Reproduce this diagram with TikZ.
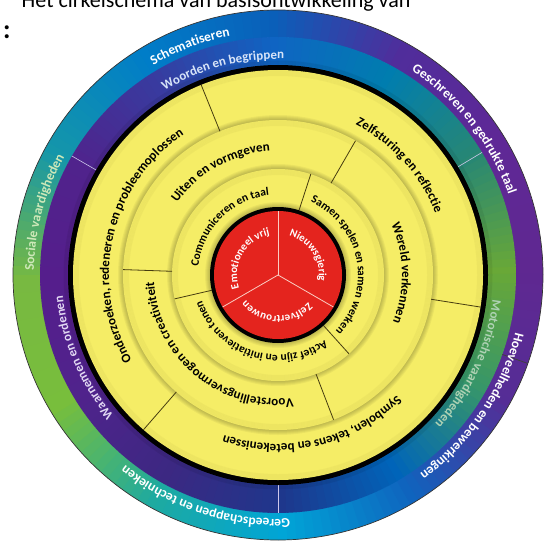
\documentclass[tikz,border=0pt]{standalone}
\usepackage{fontspec}
\setmainfont{Carlito}
\usetikzlibrary{decorations.text}

\definecolor{wheelyellow}{RGB}{245,237,102}
\definecolor{wheelred}{RGB}{228,36,30}
\definecolor{sepolive}{RGB}{70,60,15}
\definecolor{seplight}{RGB}{205,200,235}
\definecolor{redline}{RGB}{250,205,195}
\definecolor{socialgreen}{RGB}{205,232,185}
\definecolor{motorgreen}{RGB}{175,210,180}
\definecolor{bandblue}{RGB}{215,228,248}
\definecolor{bandlilac}{RGB}{225,215,242}
\definecolor{oband0}{RGB}{95,40,145}
\definecolor{oband1}{RGB}{95,40,150}
\definecolor{oband2}{RGB}{80,45,155}
\definecolor{oband3}{RGB}{10,95,185}
\definecolor{oband4}{RGB}{0,125,200}
\definecolor{oband5}{RGB}{20,150,170}
\definecolor{oband6}{RGB}{120,185,65}
\definecolor{oband7}{RGB}{120,190,60}
\definecolor{oband8}{RGB}{30,170,160}
\definecolor{oband9}{RGB}{0,165,215}
\definecolor{oband10}{RGB}{15,100,190}
\definecolor{oband11}{RGB}{85,45,150}
\definecolor{iband0}{RGB}{105,168,55}
\definecolor{iband1}{RGB}{40,135,115}
\definecolor{iband2}{RGB}{0,125,175}
\definecolor{iband3}{RGB}{15,100,195}
\definecolor{iband4}{RGB}{55,60,160}
\definecolor{iband5}{RGB}{80,35,140}
\definecolor{iband6}{RGB}{85,30,140}
\definecolor{iband7}{RGB}{80,35,140}
\definecolor{iband8}{RGB}{60,40,130}
\definecolor{iband9}{RGB}{30,55,140}
\definecolor{iband10}{RGB}{0,100,185}
\definecolor{iband11}{RGB}{55,150,105}

\newcommand\fband{\fontsize{13.5}{15}\selectfont\bfseries}
\newcommand\finner{\fontsize{13}{15}\selectfont\bfseries}
\newcommand\fring{\fontsize{13}{15}\selectfont\bfseries}
\newcommand\fsmall{\fontsize{11.5}{13}\selectfont\bfseries}
\newcommand\fred{\fontsize{11}{13}\selectfont\bfseries}

\newcommand\ringlabel[5]{%
  \path[decorate,decoration={text along path,text color=#2,text align=center,text={|#1|#5}}]
    (#4+85:#3) arc[start angle=#4+85,end angle=#4-85,radius=#3];%
}

\begin{document}
\begin{tikzpicture}[x=1pt,y=1pt]
\useasboundingbox (0,0) rectangle (545,542);
\clip (0,0) rectangle (545,542);
\fill[white] (0,0) rectangle (545,542);
\node[anchor=base east,font=\fontsize{22}{26}\selectfont] (title) at (414,534) {Het cirkelschema van basisontwikkeling van};
\node[anchor=base west,font=\fontsize{27}{30}\selectfont\bfseries,inner sep=0pt] (colon) at (3,503) {:};

\begin{scope}[shift={(278,267)}]
\coordinate (C) at (0,0);
\foreach \i in {0,...,11}{
  \pgfmathtruncatemacro\j{mod(\i+1,12)}
  \foreach \t in {0,...,14}{
    \pgfmathtruncatemacro\p{\t*100/15}
    \pgfmathsetmacro\a{\i*30+\t*2}
    \fill[oband\j!\p!oband\i] (\a:237.5) arc[start angle=\a,end angle=\a+2.3,radius=237.5]
      -- (\a+2.3:265) arc[start angle=\a+2.3,end angle=\a,radius=265] -- cycle;
    \fill[iband\j!\p!iband\i] (\a:208) arc[start angle=\a,end angle=\a+2.3,radius=208]
      -- (\a+2.3:238) arc[start angle=\a+2.3,end angle=\a,radius=238] -- cycle;
  }
}
\foreach \k in {1,...,4}
  \draw[black,opacity=0.06,line width=1] (C) circle (210+\k);
\draw[black!80,line width=0.7] (C) circle (265);
\draw[black!75,line width=0.8] (-19.5:238) -- (-19.5:265);
\foreach \a in {31,150,270}
  \draw[seplight,line width=0.6] (\a:210) -- (\a:238);

\fill[black] (C) circle (210);
\fill[wheelyellow] (C) circle (205);
\foreach \R in {205,155,106}
  \foreach \k in {1,...,6}
    \draw[sepolive,opacity=0.035,line width=1] (C) circle (\R-\k+0.5);
\foreach \r in {155,106}{
  \foreach \k in {1,...,5}
    \fill[black,opacity=0.045] (C) circle (\r+\k);
  \fill[wheelyellow] (C) circle (\r);
  \foreach \k in {1,...,6}
    \draw[sepolive,opacity=0.035,line width=1] (C) circle (\r-\k+0.5);
}
\foreach \a in {112,-9,229}
  \draw[sepolive,line width=0.8] (\a:155) -- (\a:205);
\foreach \a in {60,178,-69}
  \draw[sepolive,line width=0.8] (\a:106) -- (\a:155);
\foreach \k in {1,...,5}
  \fill[black,opacity=0.045] (C) circle (68+\k);
\foreach \a in {72,193,-48}
  \draw[sepolive,line width=0.8] (\a:68) -- (\a:106);
\fill[black] (C) circle (68);
\fill[wheelred] (C) circle (64);
\foreach \a in {90,210,330}
  \draw[redline,line width=0.8] (C) -- (\a:64);

\ringlabel{\fband}{white}{244}{111}{Schematiseren}
\ringlabel{\fband}{white}{244}{38}{Geschreven en gedrukte taal}
\ringlabel{\fband}{white}{244}{-34}{Hoeveelheden en bewerkingen}
\ringlabel{\fband}{white}{244}{-108}{Gereedschappen en technieken}
\ringlabel{\fband}{socialgreen}{244}{165}{Sociale vaardigheden}
\ringlabel{\finner}{bandblue}{216}{105}{Woorden en begrippen}
\ringlabel{\finner}{motorgreen}{216}{-25}{Motorische vaardigheden}
\ringlabel{\finner}{bandlilac}{216}{203}{Waarnemen en ordenen}
\ringlabel{\fring}{black}{169}{42}{Zelfsturing en reflectie}
\ringlabel{\fring}{black}{169}{167}{Onderzoeken, redeneren en probleemoplossen}
\ringlabel{\fring}{black}{169}{283}{Symbolen, tekens en betekenissen}
\ringlabel{\fring}{black}{124}{119}{Uiten en vormgeven}
\ringlabel{\fring}{black}{124}{230}{Voorstellingsvermogen en creativiteit}
\ringlabel{\fring}{black}{124}{1}{Wereld verkennen}
\ringlabel{\fsmall}{black}{80}{135}{Communiceren en taal}
\ringlabel{\fsmall}{black}{80}{11}{Samen spelen en samen werken}
\ringlabel{\fsmall}{black}{80}{252}{Actief zijn en initiatieven tonen}
\ringlabel{\fred}{white}{41}{150}{Emotioneel vrij}
\ringlabel{\fred}{white}{41}{33}{Nieuwsgierig}
\ringlabel{\fred}{white}{41}{268}{Zelfvertrouwen}
\end{scope}
\end{tikzpicture}
\end{document}
